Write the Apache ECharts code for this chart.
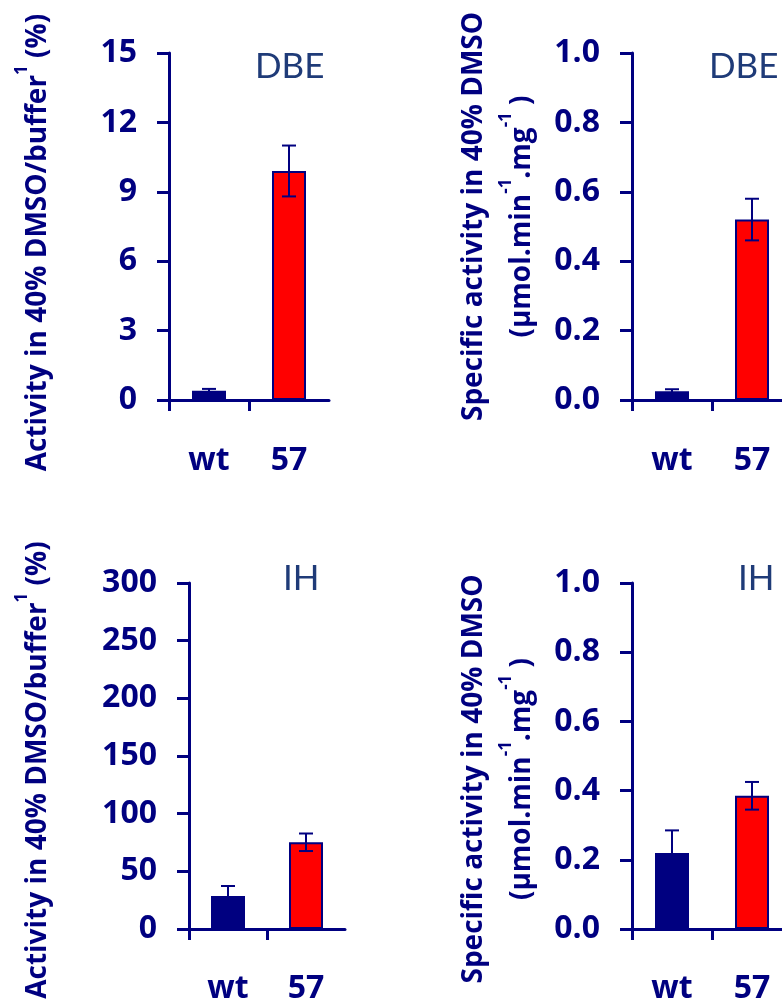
<!DOCTYPE html>
<html>
<head>
<meta charset="utf-8">
<script src="https://cdn.jsdelivr.net/npm/echarts@6/dist/echarts.min.js"></script>
<style>
html,body{margin:0;padding:0;background:#fff;}
#c{width:782px;height:1008px;}
</style>
</head>
<body>
<div id="c"></div>
<script>
// ---- data ----
const categories = ['wt', '57'];
const dbeActivity = [0.4, 9.9];
const dbeActivityErr = [0.08, 1.1];
const dbeSpecific = [0.025, 0.52];
const dbeSpecificErr = [0.006, 0.06];
const ihActivity = [28.6, 75.2];
const ihActivityErr = [8.7, 7.6];
const ihSpecific = [0.22, 0.385];
const ihSpecificErr = [0.065, 0.04];
const panelTitles = ['DBE', 'DBE', 'IH', 'IH'];
const activityTicks = { dbe: { max: 15, interval: 3 }, ih: { max: 300, interval: 50 } };
const specificTicks = { max: 1.0, interval: 0.2 };
const yNames = [
  'Activity in 40% DMSO/buffer{sup|1} (%)',
  'Specific activity in 40% DMSO\n(µmol.min{sup|-1}.mg{sup|-1} )'
];

// ---- styling ----
const NAVY = '#000080';
const RED = '#ff0000';
const TITLE_COLOR = '#1f3b78';
const BFONT = '"Open Sans", "Noto Sans", sans-serif';
const TFONT = 'Lato, "Noto Sans", sans-serif';

const grids = [
  { left: 169, top: 53, width: 160, height: 347, outerBoundsMode: 'none', containLabel: false },
  { left: 632, top: 53, width: 160, height: 347, outerBoundsMode: 'none', containLabel: false },
  { left: 189, top: 583, width: 156, height: 346, outerBoundsMode: 'none', containLabel: false },
  { left: 632, top: 583, width: 160, height: 346, outerBoundsMode: 'none', containLabel: false }
];

const panels = [
  { vals: dbeActivity, errs: dbeActivityErr, max: activityTicks.dbe.max, interval: activityTicks.dbe.interval, name: yNames[0], gap: 107, pad: [0, 32, 0, 0], fmt: v => String(v), xMargin: 45 },
  { vals: dbeSpecific, errs: dbeSpecificErr, max: specificTicks.max, interval: specificTicks.interval, name: yNames[1], gap: 86, pad: [0, 0, 0, 20], fmt: v => v.toFixed(1), xMargin: 45 },
  { vals: ihActivity, errs: ihActivityErr, max: activityTicks.ih.max, interval: activityTicks.ih.interval, name: yNames[0], gap: 127, pad: [0, 28, 0, 0], fmt: v => String(v), xMargin: 44 },
  { vals: ihSpecific, errs: ihSpecificErr, max: specificTicks.max, interval: specificTicks.interval, name: yNames[1], gap: 86, pad: [0, 46, 0, 0], fmt: v => v.toFixed(1), xMargin: 44 }
];

const titlePos = [
  { left: 255, top: 49 }, { left: 709, top: 49 },
  { left: 283, top: 561 }, { left: 738, top: 561 }
];

const xAxes = [], yAxes = [], series = [], titles = [];
panels.forEach((p, i) => {
  xAxes.push({
    type: 'category', gridIndex: i, data: categories,
    axisLine: { show: true, lineStyle: { color: NAVY, width: 3 } },
    axisTick: { show: false },
    axisLabel: { color: NAVY, fontFamily: BFONT, fontWeight: 'bold', fontSize: 32, margin: p.xMargin },
    splitLine: { show: false }
  });
  xAxes.push({
    type: 'value', gridIndex: i, min: 0, max: categories.length, position: 'bottom',
    axisLine: { show: false },
    axisTick: { show: true, length: 11, customValues: [0, 1], lineStyle: { color: NAVY, width: 3 } },
    axisLabel: { show: false },
    splitLine: { show: false }
  });
  yAxes.push({
    type: 'value', gridIndex: i, min: 0, max: p.max, interval: p.interval,
    axisLine: { show: true, lineStyle: { color: NAVY, width: 3 } },
    axisTick: { show: true, length: 12, lineStyle: { color: NAVY, width: 3 } },
    axisLabel: { color: NAVY, fontFamily: BFONT, fontWeight: 'bold', fontSize: 32, margin: 32, formatter: p.fmt },
    splitLine: { show: false },
    name: p.name, nameLocation: 'middle', nameGap: p.gap, nameRotate: 90,
    nameTextStyle: {
      color: NAVY, fontFamily: BFONT, fontWeight: 'bold', fontSize: 28, lineHeight: 48,
      padding: p.pad,
      rich: { sup: { fontSize: 17, fontWeight: 'bold', fontFamily: BFONT, color: NAVY, verticalAlign: 'top', lineHeight: 34 } }
    }
  });
  series.push({
    type: 'bar', xAxisIndex: i * 2, yAxisIndex: i, barWidth: 34,
    data: p.vals.map((v, k) => ({
      value: v,
      itemStyle: k === 0 ? { color: NAVY, borderColor: NAVY, borderWidth: 2 } : { color: RED, borderColor: NAVY, borderWidth: 2 }
    })),
    silent: true, animation: false, z: 2
  });
  series.push({
    type: 'custom', xAxisIndex: i * 2, yAxisIndex: i,
    data: p.vals.map((v, k) => [k, v - p.errs[k], v + p.errs[k]]),
    renderItem: function (params, api) {
      const x = api.value(0);
      const lo = api.coord([x, api.value(1)]);
      const hi = api.coord([x, api.value(2)]);
      const half = 7;
      const st = { stroke: NAVY, lineWidth: 2 };
      return {
        type: 'group',
        children: [
          { type: 'line', shape: { x1: lo[0], y1: lo[1], x2: hi[0], y2: hi[1] }, style: st },
          { type: 'line', shape: { x1: hi[0] - half, y1: hi[1], x2: hi[0] + half, y2: hi[1] }, style: st },
          { type: 'line', shape: { x1: lo[0] - half, y1: lo[1], x2: lo[0] + half, y2: lo[1] }, style: st }
        ]
      };
    },
    z: 5, silent: true, animation: false
  });
  titles.push({
    text: panelTitles[i], left: titlePos[i].left, top: titlePos[i].top, padding: 0,
    textStyle: { color: TITLE_COLOR, fontFamily: TFONT, fontWeight: 'normal', fontSize: 35 }
  });
});

const chart = echarts.init(document.getElementById('c'), null, { renderer: 'canvas' });
chart.setOption({
  animation: false,
  backgroundColor: '#ffffff',
  title: titles,
  grid: grids,
  xAxis: xAxes,
  yAxis: yAxes,
  series: series
});
</script>
</body>
</html>
